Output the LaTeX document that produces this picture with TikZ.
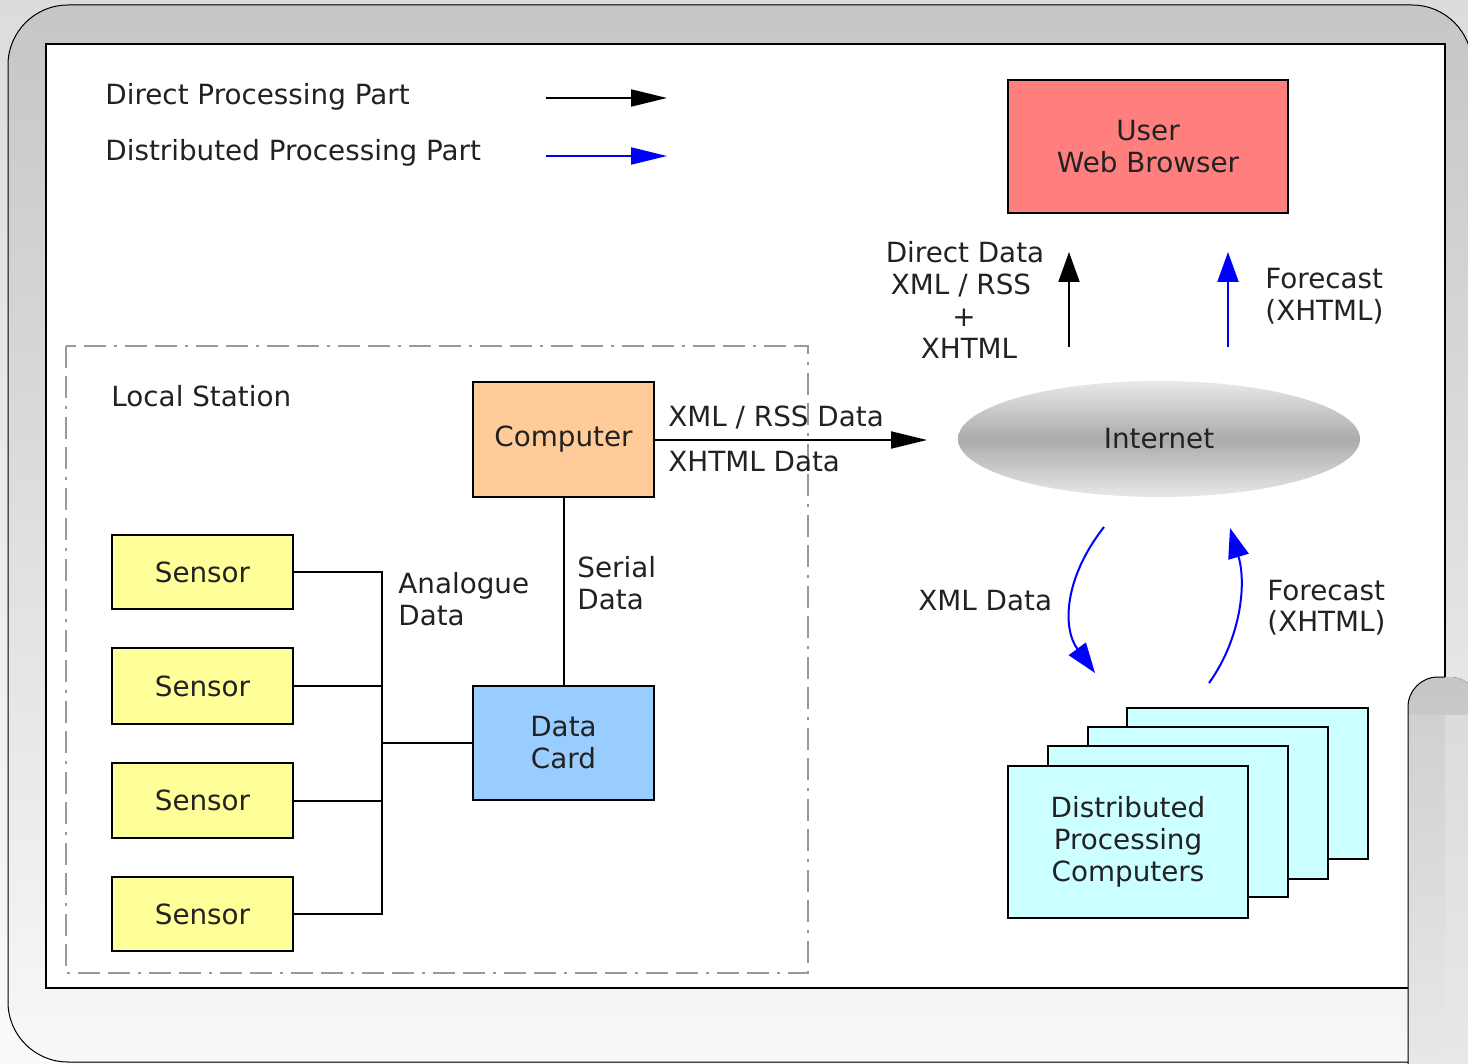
\documentclass[tikz,border=0pt]{standalone}
\usepackage{fontspec}
\setmainfont{DejaVu Sans}
\usetikzlibrary{arrows.meta,shapes.geometric}
\definecolor{bgtop}{HTML}{DCDCDC}
\definecolor{bgbot}{HTML}{FAFAFA}
\definecolor{frametop}{HTML}{C6C6C6}
\definecolor{framebot}{HTML}{F8F8F8}
\definecolor{browserred}{HTML}{FF7F7F}
\definecolor{comppeach}{HTML}{FFCC99}
\definecolor{cardblue}{HTML}{99CCFF}
\definecolor{sensoryellow}{HTML}{FFFF99}
\definecolor{distcyan}{HTML}{CCFFFF}
\definecolor{netedge}{HTML}{E8E8E8}
\definecolor{netmid}{HTML}{ABABAB}
\definecolor{dashgray}{HTML}{999999}
\definecolor{txtcol}{HTML}{222222}
\definecolor{pureblue}{HTML}{0000FF}
\begin{document}
\begin{tikzpicture}[x=0.5pt,y=-0.5pt,
  txt/.style={font=\fontsize{13.9}{16}\selectfont, text=txtcol, inner sep=0pt},
  box/.style={txt, draw=black, line width=1pt, align=center},
  conn/.style={line width=1pt},
  harrow/.style={line width=1pt, -{Triangle[length=18pt,width=8.5pt]}},
  varrow/.style={line width=1pt, -{Triangle[length=15pt,width=10.5pt]}},
  frameline/.style={draw=dashgray, line width=0.8pt, dash pattern=on 11pt off 4pt on 11pt off 4pt on 1.5pt off 4pt}
]
\useasboundingbox (0,0) rectangle (1468,1064);
% background
\fill[top color=bgtop, bottom color=bgbot] (0,0) rectangle (1468,1064);
\filldraw[draw=black, line width=0.5pt, top color=frametop, bottom color=framebot, rounded corners=30pt] (8,5) rectangle (1472,1062);
\filldraw[fill=white, draw=black, line width=1pt] (46,44) rectangle (1445,988);
% overlay bottom right
\fill[top color=frametop, bottom color=netedge, rounded corners=15pt] (1408,1080) -- (1408,677) -- (1480,677) -- (1480,1080) -- cycle;
\fill[top color=frametop!70!netedge, bottom color=netedge] (1408,715) rectangle (1445,1064);
\fill[top color=black!14, bottom color=black!9] (1445,715) rectangle (1468,1064);
\draw[black, line width=0.5pt, rounded corners=15pt] (1408,1064) -- (1408,677) -- (1445,677);

% legend
\node[txt, anchor=base west] (lg1) at (105,105) {Direct Processing Part};
\node[txt, anchor=base west] (lg2) at (105,161) {Distributed Processing Part};
\coordinate (l1a) at (546,98);
\coordinate (l1b) at (667,98);
\coordinate (l2a) at (546,156);
\coordinate (l2b) at (667,156);
\draw[harrow] (l1a) -- (l1b);
\draw[harrow, pureblue] (l2a) -- (l2b);

% local station frame
\draw[frameline] (66,346) rectangle (808,973);
\node[txt, anchor=base west] (ls) at (111,407) {Local Station};

% boxes
\node[box, fill=browserred, minimum width=140pt, minimum height=66.5pt] (browser) at (1148,146.5) {User\\Web Browser};
\node[box, fill=comppeach, minimum width=90.5pt, minimum height=57.5pt] (comp) at (563.5,439.5) {Computer};
\node[box, fill=cardblue, minimum width=90.5pt, minimum height=57pt] (card) at (563.5,743) {Data\\Card};
\node[box, fill=sensoryellow, minimum width=90.5pt, minimum height=37pt] (s1) at (202.5,572) {Sensor};
\node[box, fill=sensoryellow, minimum width=90.5pt, minimum height=38pt] (s2) at (202.5,686) {Sensor};
\node[box, fill=sensoryellow, minimum width=90.5pt, minimum height=37.5pt] (s3) at (202.5,800.5) {Sensor};
\node[box, fill=sensoryellow, minimum width=90.5pt, minimum height=37pt] (s4) at (202.5,914) {Sensor};

% internet
\node[txt, ellipse, minimum width=201pt, minimum height=58pt, top color=netedge, bottom color=netedge, middle color=netmid] (inet) at (1159,439) {Internet};

% distributed computers
\node[box, fill=distcyan, minimum width=120.5pt, minimum height=75.5pt] (d4) at (1247.5,783.5) {};
\node[box, fill=distcyan, minimum width=120pt, minimum height=76pt] (d3) at (1208,803) {};
\node[box, fill=distcyan, minimum width=120pt, minimum height=75.5pt] (d2) at (1168,821.5) {};
\node[box, fill=distcyan, minimum width=120pt, minimum height=76pt] (d1) at (1128,842) {Distributed\\Processing\\Computers};

% sensor wiring
\coordinate (j) at (382,743);
\draw[conn] (s1.east) -| (j);
\draw[conn] (s4.east) -| (j);
\draw[conn] (s2.east) -- (s2.east -| j);
\draw[conn] (s3.east) -- (s3.east -| j);
\draw[conn] (j) -- (j -| card.west);
\draw[conn] (comp.south) -- (card.north);
\node[txt, anchor=base west] (an1) at (398,593) {Analogue};
\node[txt, anchor=base west] (an2) at (398,625) {Data};
\node[txt, anchor=base west] (se1) at (577,577) {Serial};
\node[txt, anchor=base west] (se2) at (577,609) {Data};

% computer to internet
\coordinate (netin) at (927,440);
\draw[harrow] (comp.east |- netin) -- (netin);
\node[txt, anchor=base west] (xr) at (668,426) {XML / RSS Data};
\node[txt, anchor=base west] (xh) at (668,472) {XHTML Data};

% internet to browser
\coordinate (ua1) at (1069,347);
\coordinate (ua2) at (1069,252);
\coordinate (ub1) at (1228,347);
\coordinate (ub2) at (1228,252);
\draw[varrow] (ua1) -- (ua2);
\draw[varrow, pureblue] (ub1) -- (ub2);
\node[txt, anchor=base] (dd1) at (965,263) {Direct Data};
\node[txt, anchor=base] (dd2) at (961,295) {XML / RSS};
\node[txt, anchor=base] (dd3) at (964,327) {+};
\node[txt, anchor=base] (dd4) at (969,358) {XHTML};
\node[txt, anchor=base west] (fc1) at (1265,289) {Forecast};
\node[txt, anchor=base west] (fc2) at (1265,321) {(XHTML)};

% internet <-> distributed
\coordinate (ca1) at (1104,527);
\coordinate (ca2) at (1095,673);
\coordinate (cb1) at (1209,683);
\coordinate (cb2) at (1230,528);
\draw[varrow, pureblue] (ca1) .. controls (1064,578) and (1062,628) .. (ca2);
\draw[varrow, pureblue] (cb1) .. controls (1240,640) and (1247,585) .. (cb2);
\node[txt, anchor=base west] (xd) at (918,610) {XML Data};
\node[txt, anchor=base west] (fd1) at (1267,600) {Forecast};
\node[txt, anchor=base west] (fd2) at (1267,631) {(XHTML)};
\end{tikzpicture}
\end{document}
